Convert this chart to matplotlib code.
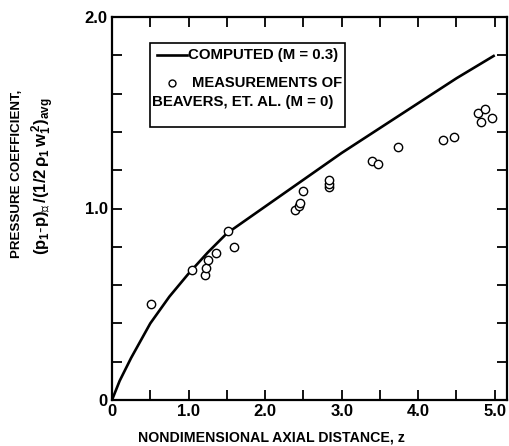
import matplotlib
matplotlib.use("Agg")
import matplotlib.pyplot as plt
from matplotlib.patches import Rectangle
from matplotlib.ticker import MultipleLocator, FixedLocator

plt.rcParams["font.family"] = ["Liberation Sans", "DejaVu Sans"]
plt.rcParams["mathtext.fontset"] = "custom"
plt.rcParams["mathtext.rm"] = "Liberation Sans:bold"
plt.rcParams["mathtext.it"] = "Liberation Sans:bold"
plt.rcParams["mathtext.bf"] = "Liberation Sans:bold"
plt.rcParams["mathtext.fallback"] = "stixsans"

# computed curve (M = 0.3)
z_computed = [0.0, 0.1, 0.25, 0.5, 0.75, 1.0, 1.25, 1.5, 2.0, 2.5, 3.0, 3.5, 4.0, 4.5, 5.0]
cp_computed = [0.0, 0.10, 0.22, 0.40, 0.54, 0.66, 0.77, 0.87, 1.01, 1.15, 1.29, 1.42, 1.55, 1.68, 1.80]

# measurements of Beavers et al. (M = 0)
z_meas = [0.51, 1.05, 1.21, 1.23, 1.25, 1.36, 1.51, 1.60,
          2.39, 2.44, 2.46, 2.49, 2.83, 2.83, 2.83,
          3.40, 3.47, 3.73, 4.32, 4.47, 4.78, 4.87, 4.82, 4.97]
cp_meas = [0.50, 0.68, 0.655, 0.69, 0.73, 0.77, 0.88, 0.80,
           0.99, 1.015, 1.03, 1.09, 1.11, 1.13, 1.15,
           1.25, 1.23, 1.32, 1.36, 1.375, 1.50, 1.52, 1.45, 1.475]

W, H = 509, 446
fig = plt.figure(figsize=(W / 100, H / 100), dpi=100)
ax = fig.add_axes([112 / W, 1 - 400 / H, 395 / W, 383 / H])

ax.plot(z_computed, cp_computed, color="black", lw=1.9, solid_capstyle="butt")
ax.plot(z_meas, cp_meas, "o", mfc="white", mec="black", mew=1.0, ms=6)

ax.set_xlim(0, 5.16)
ax.set_ylim(0, 2.0)

ax.xaxis.set_major_locator(FixedLocator([0, 1, 2, 3, 4, 5]))
ax.xaxis.set_minor_locator(FixedLocator([0.5, 1.5, 2.5, 3.5, 4.5]))
ax.set_xticklabels(["0", "1.0", "2.0", "3.0", "4.0", "5.0"])
ax.yaxis.set_major_locator(FixedLocator([0, 1, 2]))
ax.yaxis.set_minor_locator(MultipleLocator(0.2))
ax.set_yticklabels(["0", "1.0", "2.0"])

ax.tick_params(which="both", direction="in", top=True, right=True, width=1.3,
               labelsize=12, pad=3)
ax.tick_params(which="major", length=7)
ax.tick_params(which="minor", length=7)
for lab in ax.get_xticklabels() + ax.get_yticklabels():
    lab.set_fontweight("bold")
for sp in ax.spines.values():
    sp.set_linewidth(1.6)


def fx(px):
    return px / W


def fy(py):
    return 1 - py / H


# legend box drawn by hand (two-line second entry)
fig.patches.append(Rectangle((fx(150), fy(127)), fx(345) - fx(150), fy(43) - fy(127),
                             transform=fig.transFigure, fill=False, lw=1.2, color="black"))
fig.lines.append(plt.Line2D([fx(157), fx(187)], [fy(55), fy(55)], transform=fig.transFigure,
                            color="black", lw=1.9))
fig.lines.append(plt.Line2D([fx(172)], [fy(83)], transform=fig.transFigure, marker="o",
                            mfc="white", mec="black", mew=1.0, ms=5))
fig.text(fx(188), fy(55), "COMPUTED (M = 0.3)", fontsize=10.8, fontweight="bold",
         va="center", ha="left")
fig.text(fx(192), fy(83), "MEASUREMENTS OF", fontsize=10.6, fontweight="bold",
         va="center", ha="left")
fig.text(fx(152), fy(102), "BEAVERS, ET. AL. (M = 0)", fontsize=10.8, fontweight="bold",
         va="center", ha="left")

# axis labels
fig.text(fx(271), fy(437), "NONDIMENSIONAL AXIAL DISTANCE, z", fontsize=10.2,
         fontweight="bold", ha="center", va="center")
fig.text(fx(17), fy(174), "PRESSURE COEFFICIENT,", fontsize=9.6, fontweight="bold",
         rotation=90, ha="center", va="center")
cl = "\u2104"
fig.text(fx(43), fy(176), r"$(p_1$-$p)_{" + cl + r"}\,/(1/2\,\rho_1\,w_1^{\,2})_{avg}$",
         fontsize=12, rotation=90, ha="center", va="center")

fig.savefig("out.png", dpi=100)
